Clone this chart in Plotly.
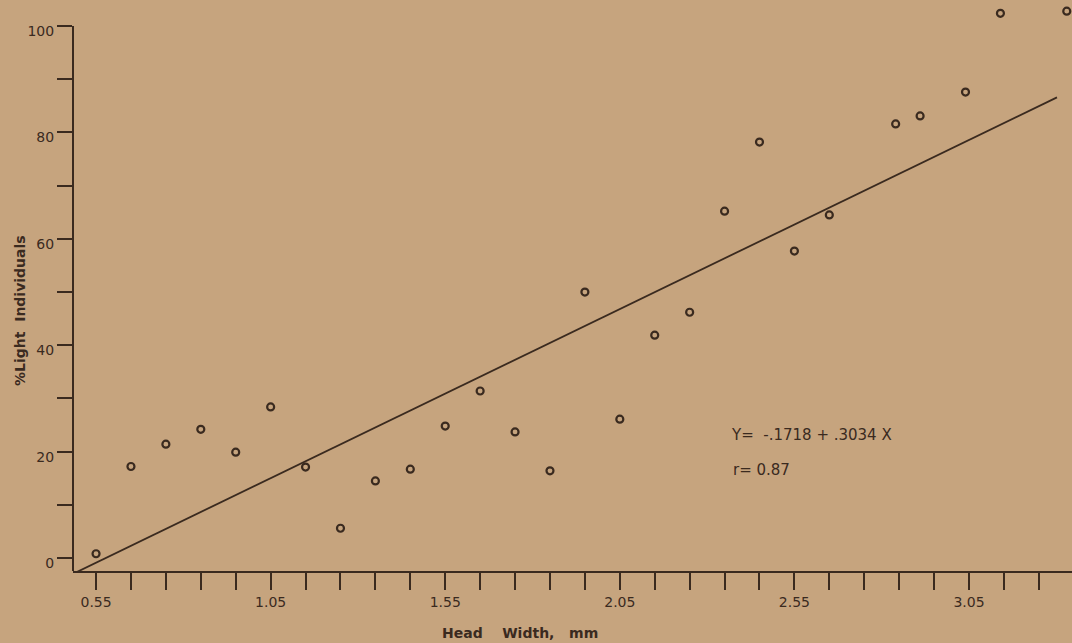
import plotly.graph_objects as go

# Data
head_width = [0.55, 0.65, 0.75, 0.85, 0.95, 1.05, 1.15, 1.25, 1.35, 1.45,
              1.55, 1.65, 1.75, 1.85, 1.95, 2.05, 2.15, 2.25, 2.35, 2.45,
              2.55, 2.65, 2.84, 2.91, 3.04, 3.14, 3.33]
pct_light = [0.8, 17.2, 21.4, 24.2, 19.9, 28.4, 17.1, 5.6, 14.5, 16.7,
             24.8, 31.4, 23.7, 16.4, 50.0, 26.1, 41.9, 46.2, 65.2, 78.2,
             57.7, 64.5, 81.6, 83.1, 87.6, 102.4, 102.8]

fit_x = [0.496, 3.302]
fit_y = [-2.6, 86.6]

x_tickvals = [0.55, 1.05, 1.55, 2.05, 2.55, 3.05]
x_ticktext = ["0.55", "1.05", "1.55", "2.05", "2.55", "3.05"]
y_tickvals = [0, 20, 40, 60, 80, 100]
y_ticktext = ["0", "20", "40", "60", "80", "100"]

NB = "\u00a0"
equation_text = "Y=" + NB * 2 + "-.1718 + .3034" + NB + "X"
r_text = "r= 0.87"
x_title = "Head" + NB * 4 + "Width," + NB * 3 + "mm"
y_title = "%Light" + NB * 2 + "Individuals"

BG = "#C6A47E"
INK = "#3A2A1F"

X_RANGE = [0.484, 3.345]
Y_RANGE = [-2.44, 104.9]

fig = go.Figure()

fig.add_trace(go.Scatter(
    x=fit_x, y=fit_y, mode="lines",
    line=dict(color=INK, width=1.8),
    showlegend=False, hoverinfo="skip",
))

fig.add_trace(go.Scatter(
    x=head_width, y=pct_light, mode="markers",
    marker=dict(symbol="circle-open", size=7, color=INK, line=dict(width=2.2, color=INK)),
    showlegend=False,
))

# y axis line only up to 100
fig.add_shape(type="line", xref="paper", yref="y", x0=0, x1=0,
              y0=Y_RANGE[0], y1=100, line=dict(color=INK, width=2))

fig.update_layout(
    width=1072, height=643,
    paper_bgcolor=BG, plot_bgcolor=BG,
    margin=dict(l=73, r=0, t=0, b=72),
    font=dict(family="DejaVu Sans", color=INK, size=14),
    xaxis=dict(
        range=X_RANGE, showgrid=False, zeroline=False,
        showline=True, linecolor=INK, linewidth=2,
        ticks="outside", ticklen=17, tickwidth=2, tickcolor=INK,
        tickvals=x_tickvals, ticktext=x_ticktext,
        tickfont=dict(family="DejaVu Sans", size=14, color=INK),
        minor=dict(tick0=0.55, dtick=0.1, ticks="outside", ticklen=17,
                   tickwidth=2, tickcolor=INK, showgrid=False),
    ),
    yaxis=dict(
        range=Y_RANGE, showgrid=False, zeroline=False, showline=False,
        ticks="outside", ticklen=15, tickwidth=2, tickcolor=INK,
        tickvals=y_tickvals, ticktext=y_ticktext,
        ticklabelshift=5,
        tickfont=dict(family="DejaVu Sans", size=14, color=INK),
        minor=dict(tick0=0, dtick=10, ticks="outside", ticklen=15,
                   tickwidth=2, tickcolor=INK, showgrid=False),
    ),
    annotations=[
        dict(text=equation_text, xref="paper", yref="paper",
             x=(729 - 73) / 999, y=1 - 435 / 571, xanchor="left", yanchor="middle",
             showarrow=False, font=dict(family="DejaVu Sans", size=15, color=INK)),
        dict(text=r_text, xref="paper", yref="paper",
             x=(731 - 73) / 999, y=1 - 470 / 571, xanchor="left", yanchor="middle",
             showarrow=False, font=dict(family="DejaVu Sans", size=15, color=INK)),
        dict(text=x_title, xref="paper", yref="paper",
             x=(520 - 73) / 999, y=1 - 633 / 571, xanchor="center", yanchor="middle",
             showarrow=False, font=dict(family="DejaVu Sans", size=14, color=INK, weight="bold")),
        dict(text=y_title, xref="paper", yref="paper",
             x=(20 - 73) / 999, y=1 - 311 / 571, xanchor="center", yanchor="middle",
             textangle=-90, showarrow=False,
             font=dict(family="DejaVu Sans", size=14, color=INK, weight="bold")),
    ],
)

fig.write_html(
    "out.html",
    config={"displayModeBar": False},
    post_script="document.body.style.margin='0';document.body.style.background='%s';" % BG,
)
